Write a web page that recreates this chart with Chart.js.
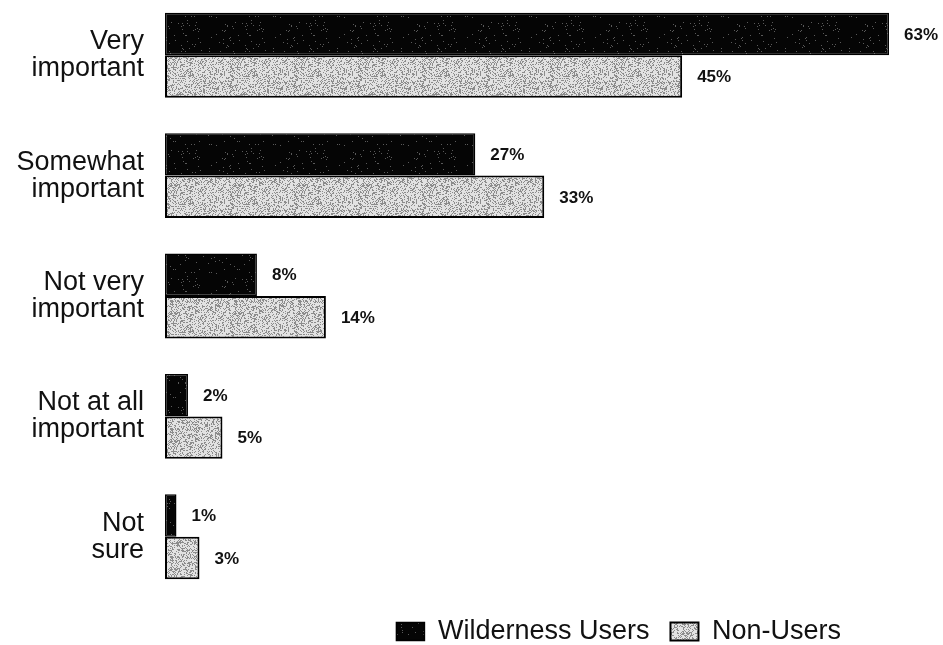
<!DOCTYPE html>
<html>
<head>
<meta charset="utf-8">
<script src="https://cdn.jsdelivr.net/npm/chart.js@4"></script>
<style>
  html, body { margin: 0; padding: 0; background: #fff; }
  #wrap { position: relative; width: 943px; height: 645px; overflow: hidden; }
  #importanceChart { position: absolute; left: 0; top: -5px; }
</style>
</head>
<body>
<div id="wrap"><canvas id="importanceChart" width="943" height="660"></canvas></div>
<script>
// Importance ratings, wilderness users vs non-users (percent)
const categories = [
    ['Very', 'important'],
    ['Somewhat', 'important'],
    ['Not very', 'important'],
    ['Not at all', 'important'],
    ['Not', 'sure']
];
const seriesNames = ['Wilderness Users', 'Non-Users'];
const wildernessUsers = [63, 27, 8, 2, 1];
const nonUsers = [45, 33, 14, 5, 3];

// small deterministic speckle texture so the fills look like a printed halftone
function makeStipple(base, dot, density, seed) {
    const c = document.createElement('canvas');
    c.width = 64; c.height = 64;
    const g = c.getContext('2d');
    g.fillStyle = base;
    g.fillRect(0, 0, 64, 64);
    let s = seed;
    const next = () => { s = (s * 1103515245 + 12345) & 0x7fffffff; return s / 0x7fffffff; };
    g.fillStyle = dot;
    for (let y = 0; y < 64; y++) {
        for (let x = 0; x < 64; x++) {
            if (next() < density) g.fillRect(x, y, 1, 1);
        }
    }
    return g.createPattern(c, 'repeat');
}

const ctx = document.getElementById('importanceChart').getContext('2d');
const darkFill = makeStipple('#050505', '#5a5a5a', 0.025, 17);
const lightFill = makeStipple('#e2e2e2', '#8c8c8c', 0.33, 91);

// percent labels at the end of each bar
const barLabels = {
    id: 'barLabels',
    afterDatasetsDraw(chart) {
        const c = chart.ctx;
        c.save();
        c.font = 'bold 17px "Liberation Sans", Arial, sans-serif';
        c.fillStyle = '#111';
        c.textAlign = 'left';
        c.textBaseline = 'middle';
        chart.data.datasets.forEach((ds, i) => {
            chart.getDatasetMeta(i).data.forEach((bar, j) => {
                c.fillText(ds.data[j] + '%', bar.x + 15, bar.y + 1);
            });
        });
        c.restore();
    }
};

new Chart(ctx, {
    type: 'bar',
    data: {
        labels: categories,
        datasets: [{
            label: seriesNames[0],
            data: wildernessUsers,
            backgroundColor: darkFill,
            borderColor: '#000',
            borderWidth: 1.5,
            borderSkipped: false,
            clip: false
        }, {
            label: seriesNames[1],
            data: nonUsers,
            backgroundColor: lightFill,
            borderColor: '#000',
            borderWidth: 2,
            borderSkipped: false,
            clip: false
        }]
    },
    options: {
        indexAxis: 'y',
        responsive: false,
        animation: false,
        layout: { padding: { top: 0, right: 81, bottom: 0, left: 0 } },
        datasets: {
            bar: { barPercentage: 1, categoryPercentage: 0.705 }
        },
        plugins: {
            tooltip: { enabled: false },
            legend: {
                position: 'bottom',
                align: 'end',
                labels: {
                    color: '#111',
                    font: { family: '"Liberation Sans", Arial, sans-serif', size: 27 },
                    boxWidth: 28,
                    boxHeight: 18,
                    padding: 21
                }
            }
        },
        scales: {
            x: {
                display: false,
                min: 0,
                max: 60.65
            },
            y: {
                grid: { display: false, drawTicks: false },
                border: { display: false },
                ticks: {
                    color: '#111',
                    padding: 21,
                    font: { family: '"Liberation Sans", Arial, sans-serif', size: 27, lineHeight: 1.0 }
                },
                afterFit(scale) {
                    scale.width = 165;
                    scale.paddingTop = 0;
                    scale.paddingBottom = 0;
                }
            }
        }
    },
    plugins: [barLabels]
});
</script>
</body>
</html>
